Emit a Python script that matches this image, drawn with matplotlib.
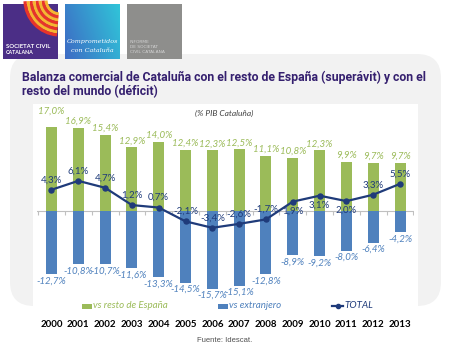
import numpy as np
import matplotlib
matplotlib.use("Agg")
import matplotlib.pyplot as plt
from matplotlib.patches import Rectangle, FancyBboxPatch, Arc

# ---- data (% of Catalan GDP) ----
years = ["2000", "2001", "2002", "2003", "2004", "2005", "2006",
         "2007", "2008", "2009", "2010", "2011", "2012", "2013"]
vs_spain = [17.0, 16.9, 15.4, 12.9, 14.0, 12.4, 12.3, 12.5, 11.1, 10.8, 12.3, 9.9, 9.7, 9.7]
vs_abroad = [-12.7, -10.8, -10.7, -11.6, -13.3, -14.5, -15.7, -15.1, -12.8, -8.9, -9.2, -8.0, -6.4, -4.2]
total = [4.3, 6.1, 4.7, 1.2, 0.7, -2.1, -3.4, -2.6, -1.7, 1.9, 3.1, 2.0, 3.3, 5.5]

legend_labels = ["vs resto de España", "vs extranjero", "TOTAL"]

GREEN = "#9bbb59"
BLUE = "#4f81bd"
NAVY = "#1f3b7a"
PURPLE = "#35206f"

W, H = 450, 348
fig = plt.figure(figsize=(W / 100, H / 100), dpi=100)
fig.patch.set_facecolor("white")

# background canvas in pixel coordinates
bg = fig.add_axes([0, 0, 1, 1])
bg.set_xlim(0, W)
bg.set_ylim(H, 0)
bg.axis("off")

# rounded grey panel and white plot box
bg.add_patch(FancyBboxPatch((10, 54), 431, 252, boxstyle="round,pad=0,rounding_size=24",
                            fc="#f2f2f2", ec="none"))
bg.add_patch(Rectangle((33, 104), 385, 212, fc="white", ec="none"))

# ---- logos ----
# Societat Civil Catalana
bg.add_patch(Rectangle((3, 4), 55, 55, fc="#4b2e86", ec="none"))
clip_rect = Rectangle((3, 4), 55, 55, transform=bg.transData)
cols = ["#f6b631", "#e8332a", "#f6b631", "#e8332a", "#f6b631", "#e8332a", "#f6b631", "#e8332a"]
for k, c in enumerate(cols):
    r = 14 + k * 3.0
    a = Arc((60, 0), 2 * r, 2 * r, theta1=95, theta2=178, color=c, lw=2.3)
    a.set_clip_path(clip_rect)
    bg.add_patch(a)
bg.text(6, 46.5, "SOCIETAT CIVIL", color="white", fontsize=4.3, fontweight="bold",
        ha="left", va="center", family="Lato")
bg.text(6, 52.5, "CATALANA", color="white", fontsize=3.8, fontweight="bold",
        ha="left", va="center", family="Lato")

# Compromesos logo with gradient
grad = np.linspace(0, 1, 64)
gx, gy = np.meshgrid(grad, grad)
gmix = np.clip(0.75 * gx + 0.25 * (1 - gy), 0, 1)
c0 = np.array([0.24, 0.42, 0.77])
c1 = np.array([0.19, 0.77, 0.85])
img = c0[None, None, :] * (1 - gmix[..., None]) + c1[None, None, :] * gmix[..., None]
bg.imshow(img, extent=(65, 120, 59, 4), aspect="auto", zorder=1)
bg.text(92.5, 41, "Comprometidos", color="white", fontsize=4.6, style="italic",
        ha="center", va="center", family="DejaVu Serif")
bg.text(92.5, 50, "con Cataluña", color="white", fontsize=4.6, style="italic",
        ha="center", va="center", family="DejaVu Serif")

# Informe logo
bg.add_patch(Rectangle((127, 4), 55, 55, fc="#8e8e8c", ec="none"))
for k, t in enumerate(["INFORME", "DE SOCIETAT", "CIVIL CATALANA"]):
    bg.text(130, 42 + 5 * k, t, color="#d2d2d2", fontsize=3.2, ha="left", va="center",
            family="DejaVu Sans")

# ---- title (font size fitted to the line width) ----
title_kw = dict(color=PURPLE, fontsize=10, fontweight="bold", ha="left", va="center",
                family="Roboto")
t1 = bg.text(22, 77, "Balanza comercial de Cataluña con el resto de España (superávit) y con el",
             **title_kw)
t2 = bg.text(22, 92, "resto del mundo (déficit)", **title_kw)
renderer = fig.canvas.get_renderer()
wpx = t1.get_window_extent(renderer).width
fs = 10 * 405 / wpx
t1.set_fontsize(fs)
t2.set_fontsize(fs)

bg.text(224, 113, "(% PIB Cataluña)", color="#404040", fontsize=6, style="italic",
        ha="center", va="center", family="Lato")

# ---- legend ----
leg_kw = dict(fontsize=7, style="italic", ha="left", va="center", family="Lato")
bg.add_patch(Rectangle((82, 303.5), 10, 5, fc=GREEN, ec="none"))
bg.text(93, 306, legend_labels[0], color=GREEN, **leg_kw)
bg.add_patch(Rectangle((218, 303.5), 10, 5, fc=BLUE, ec="none"))
bg.text(229, 306, legend_labels[1], color=BLUE, **leg_kw)
bg.plot([332, 343], [306, 306], color=NAVY, lw=1.6)
bg.plot([337.5], [306], "o", color=NAVY, ms=3)
bg.text(344, 306, legend_labels[2], color=NAVY, **leg_kw)

bg.text(225, 341, "Fuente: Idescat.", color="#505050", fontsize=5.5, ha="center",
        va="center", family="Liberation Sans")

# ---- chart ----
x0, x1, y0, y1 = 37, 414, 104, 316
ax = fig.add_axes([x0 / W, 1 - y1 / H, (x1 - x0) / W, (y1 - y0) / H])
ax.patch.set_alpha(0)
n = len(years)
idx = np.arange(n)
ax.set_xlim(-0.54, n - 1 + 0.52)
scale = 4.94  # px per percentage point
ax.set_ylim(-(y1 - 211) / scale, (211 - y0) / scale)
for s in ax.spines.values():
    s.set_visible(False)
ax.set_yticks([])

bw = 0.41
ax.bar(idx, vs_spain, width=bw, color=GREEN, zorder=2)
ax.bar(idx, vs_abroad, width=bw, color=BLUE, zorder=2)

# baseline with category separators
ax.axhline(0, color="#c0c0c0", lw=0.8, zorder=1)
ax.vlines(np.arange(n + 1) - 0.5, -0.8, 0, color="#c0c0c0", lw=0.8, zorder=1)

ax.plot(idx, total, color=NAVY, lw=1.6, marker="o", ms=3.6, zorder=4)

def fmt(v):
    return f"{v:.1f}%".replace(".", ",")

lab_kw = dict(fontsize=7, ha="center", va="center", family="Lato",
              textcoords="offset pixels", zorder=5)
for i in idx:
    up = 16 if i == 0 else 6.5
    ax.annotate(fmt(vs_spain[i]), (i, vs_spain[i]), xytext=(0, up), color=GREEN,
                style="italic", **lab_kw)
    ax.annotate(fmt(vs_abroad[i]), (i, vs_abroad[i]), xytext=(0, -7), color=BLUE,
                style="italic", **lab_kw)
    below = years[i] in ("2009", "2010", "2011")
    ax.annotate(fmt(total[i]), (i, total[i]), xytext=(0, -9.5 if below else 10),
                color=NAVY, **lab_kw)

ax.set_xticks(idx)
ax.set_xticklabels(years, fontsize=7, fontweight="bold", family="Lato", color="black")
ax.tick_params(axis="x", length=0, pad=3)

fig.savefig("out.png", dpi=100, facecolor="white")
